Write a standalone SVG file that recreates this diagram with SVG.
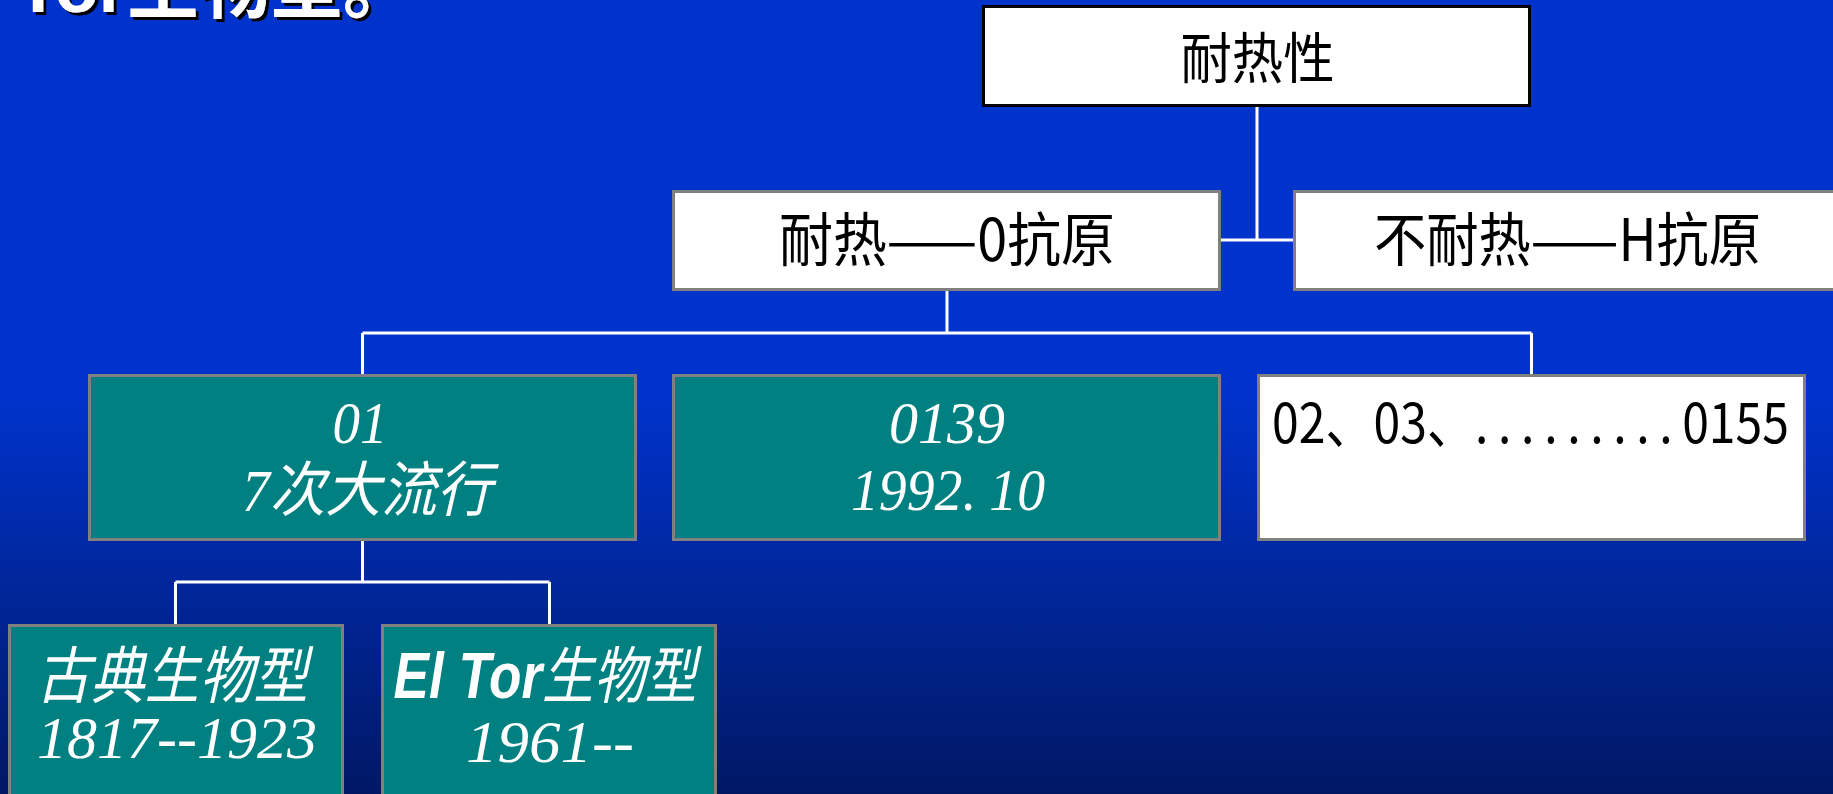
<svg xmlns="http://www.w3.org/2000/svg" width="1833" height="794" viewBox="0 0 1833 794">
  <defs>
    <linearGradient id="bg" x1="0" y1="0" x2="0" y2="1">
      <stop offset="0" stop-color="#0033cc"/>
      <stop offset="0.5" stop-color="#0033cc"/>
      <stop offset="1" stop-color="#001864"/>
    </linearGradient>
    <filter id="shadow" x="-5%" y="-50%" width="110%" height="200%">
      <feDropShadow dx="3" dy="3" stdDeviation="0" flood-color="#000000" flood-opacity="1"/>
    </filter>
    <style>
      .white { fill: #ffffff; stroke: #808080; stroke-width: 3; }
      .top { fill: #ffffff; stroke: #000000; stroke-width: 3; }
      .teal { fill: #008080; stroke: #808080; stroke-width: 3; }
      .conn { fill: none; stroke: #ffffff; stroke-width: 3; }
      .lbl { font-family: "Noto Sans CJK SC", sans-serif; fill: #000000; }
      .it { font-family: "Liberation Serif", "Noto Sans CJK SC", serif; font-style: italic; fill: #ffffff; }
      .title { font-family: "Liberation Sans", "Noto Sans CJK SC", sans-serif; font-weight: bold; fill: #ffffff; }
    </style>
  </defs>

  <rect x="0" y="0" width="1833" height="794" fill="url(#bg)"/>

  <text class="title" x="16" y="12" font-size="72" filter="url(#shadow)">Tor生物型。</text>

  <g id="connectors">
    <path class="conn" d="M1257 107 V240 M1221 240 H1293"/>
    <path class="conn" d="M947 291 V333 M362.5 333 H1531.5 M362.5 333 V374 M1531.5 333 V374"/>
    <path class="conn" d="M362.5 541 V582 M175.5 582 H549.5 M175.5 582 V624 M549.5 582 V624"/>
  </g>

  <g id="node-heat">
    <rect class="top" x="983.5" y="6.5" width="546" height="99"/>
    <text class="lbl" x="1257.5" y="78" font-size="55" text-anchor="middle" textLength="154" lengthAdjust="spacingAndGlyphs">耐热性</text>
  </g>

  <g id="node-o-antigen">
    <rect class="white" x="673.5" y="191.5" width="546" height="98"/>
    <text class="lbl" x="947" y="261" font-size="58" text-anchor="middle" textLength="336" lengthAdjust="spacingAndGlyphs">耐热——0抗原</text>
  </g>

  <g id="node-h-antigen">
    <rect class="white" x="1294.5" y="191.5" width="546" height="98"/>
    <text class="lbl" x="1567.5" y="261" font-size="58" text-anchor="middle" textLength="387" lengthAdjust="spacingAndGlyphs">不耐热——H抗原</text>
  </g>

  <g id="node-o1">
    <rect class="teal" x="89.5" y="375.5" width="546" height="164"/>
    <text class="it" x="360" y="443" font-size="60" text-anchor="middle" textLength="55" lengthAdjust="spacingAndGlyphs">01</text>
    <text class="it" x="367" y="511" font-size="60" text-anchor="middle" textLength="250" lengthAdjust="spacingAndGlyphs">7次大流行</text>
  </g>

  <g id="node-o139">
    <rect class="teal" x="673.5" y="375.5" width="546" height="164"/>
    <text class="it" x="947" y="443" font-size="60" text-anchor="middle" textLength="116" lengthAdjust="spacingAndGlyphs">0139</text>
    <text class="it" x="948" y="510" font-size="60" text-anchor="middle" textLength="194" lengthAdjust="spacingAndGlyphs" dx="0 0 0 0 0 14">1992.10</text>
  </g>

  <g id="node-others">
    <rect class="white" x="1258.5" y="375.5" width="546" height="164"/>
    <text class="lbl" x="1272" y="443" font-size="55" textLength="517" lengthAdjust="spacingAndGlyphs" dx="0 0 0 0 0 0 0 11 11 11 11 11 11 11 11 11">02、03、.........0155</text>
  </g>

  <g id="node-classic">
    <rect class="teal" x="9.5" y="625.5" width="333" height="200"/>
    <text class="it" x="172" y="698" font-size="62" text-anchor="middle" textLength="272" lengthAdjust="spacingAndGlyphs">古典生物型</text>
    <text class="it" x="177" y="758" font-size="60" text-anchor="middle" textLength="280" lengthAdjust="spacingAndGlyphs">1817--1923</text>
  </g>

  <g id="node-eltor">
    <rect class="teal" x="382.5" y="625.5" width="333" height="200"/>
    <text class="it" transform="translate(545 698) scale(0.83 1)" x="0" y="0" font-size="62" text-anchor="middle"><tspan font-family="Liberation Sans" font-weight="bold" font-size="64">El Tor</tspan>生物型</text>
    <text class="it" x="550" y="762" font-size="60" text-anchor="middle" textLength="168" lengthAdjust="spacingAndGlyphs">1961--</text>
  </g>
</svg>
